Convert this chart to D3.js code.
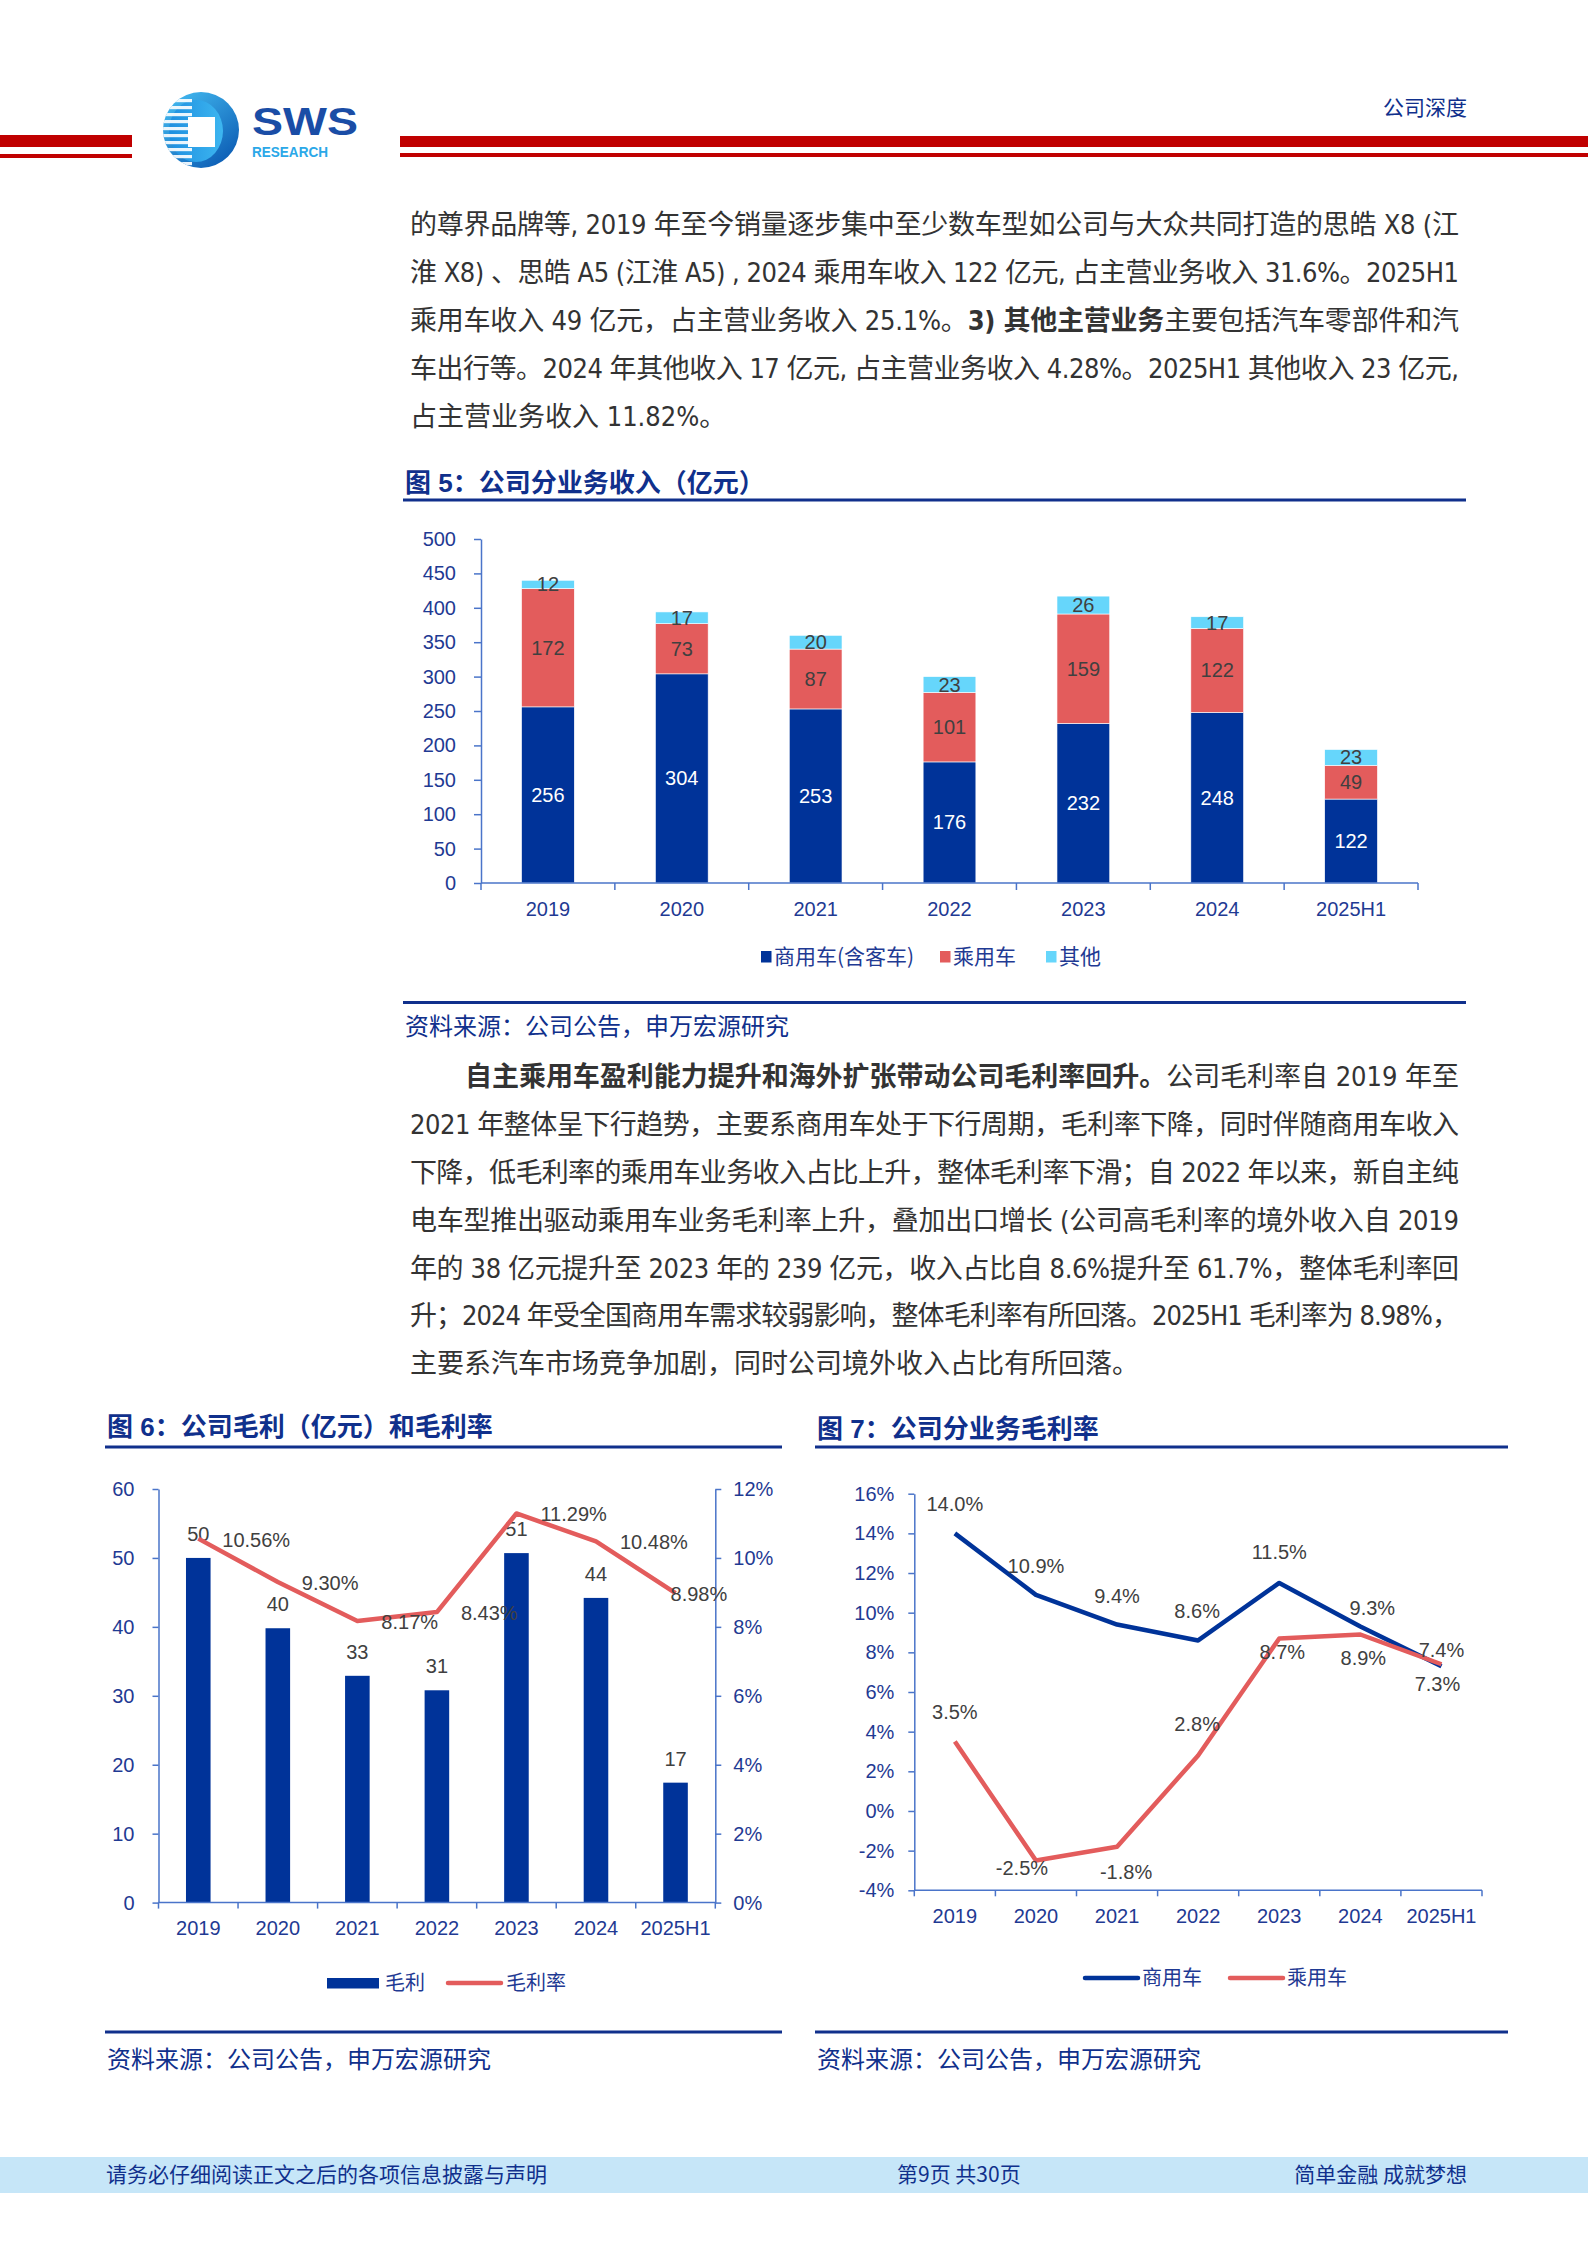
<!DOCTYPE html>
<html>
<head>
<meta charset="utf-8">
<script src="https://cdn.jsdelivr.net/npm/d3@7"></script>
<style>
html, body { margin: 0; padding: 0; background: #fff; }
svg { display: block; }
</style>
</head>
<body>
<svg id="page" width="1588" height="2245"></svg>
<script>
// ---- data ----
var years = ["2019", "2020", "2021", "2022", "2023", "2024", "2025H1"];

// fig 5: revenue by segment (亿元)
var revCommercial = [256, 304, 253, 176, 232, 248, 122];
var revPassenger = [172, 73, 87, 101, 159, 122, 49];
var revOther = [12, 17, 20, 23, 26, 17, 23];
var revTicks = [0, 50, 100, 150, 200, 250, 300, 350, 400, 450, 500];
var revNames = ["商用车(含客车)", "乘用车", "其他"];

// fig 6: gross profit (亿元) and gross margin (%)
var grossProfit = [50.0, 39.8, 32.9, 30.8, 50.7, 44.2, 17.4];
var grossMargin = [10.56, 9.30, 8.17, 8.43, 11.29, 10.48, 8.98];
var profitTicks = [0, 10, 20, 30, 40, 50, 60];
var marginTicks = [0, 2, 4, 6, 8, 10, 12];

// fig 7: margin by segment (%)
var marginCommercial = [14.0, 10.9, 9.4, 8.6, 11.5, 9.3, 7.3];
var marginPassenger = [3.5, -2.5, -1.8, 2.8, 8.7, 8.9, 7.4];
var segTicks = [-4, -2, 0, 2, 4, 6, 8, 10, 12, 14, 16];

// ---- styles ----
var navy = "#003399",
    red = "#E35C5C",
    cyan = "#66D6FB",
    axisBlue = "#4A74C9",
    tickBlue = "#1F3A93",
    titleBlue = "#10308C",
    labelGrey = "#404040",
    headRed = "#C00000";

var FONT_CN = "'Noto Sans CJK SC', sans-serif",
    FONT_NUM = "'Liberation Sans', Arial, 'Noto Sans CJK SC', sans-serif",
    FONT_BODY = "'Liberation Sans Narrow', 'Arial Narrow', 'DejaVu Sans Condensed', 'Noto Sans CJK SC', sans-serif";

var svg = d3.select("#page");
svg.append("rect").attr("width", 1588).attr("height", 2245).attr("fill", "#fff");

// ---- header ----
svg.append("rect").attr("x", 0).attr("y", 135).attr("width", 132).attr("height", 12).attr("fill", headRed);
svg.append("rect").attr("x", 0).attr("y", 154).attr("width", 132).attr("height", 4).attr("fill", headRed);
svg.append("rect").attr("x", 400).attr("y", 136).attr("width", 1188).attr("height", 11).attr("fill", headRed);
svg.append("rect").attr("x", 400).attr("y", 153).attr("width", 1188).attr("height", 4).attr("fill", headRed);

var defs = svg.append("defs");
var lg = defs.append("linearGradient").attr("id", "logoGrad")
    .attr("x1", "10%").attr("y1", "0%").attr("x2", "90%").attr("y2", "100%");
lg.append("stop").attr("offset", "0%").attr("stop-color", "#45BDF2");
lg.append("stop").attr("offset", "100%").attr("stop-color", "#0856B0");
var lg2 = defs.append("linearGradient").attr("id", "logoInner")
    .attr("x1", "0%").attr("y1", "0%").attr("x2", "100%").attr("y2", "0%");
lg2.append("stop").attr("offset", "0%").attr("stop-color", "#1E8FE0");
lg2.append("stop").attr("offset", "100%").attr("stop-color", "#3DB6F0");
defs.append("clipPath").attr("id", "logoClip")
  .append("circle").attr("cx", 201).attr("cy", 130).attr("r", 38);

var logo = svg.append("g");
logo.append("circle").attr("cx", 201).attr("cy", 130).attr("r", 38).attr("fill", "url(#logoGrad)");
logo.append("ellipse").attr("cx", 196).attr("cy", 131).attr("rx", 27).attr("ry", 31).attr("fill", "url(#logoInner)");
var stripes = logo.append("g").attr("clip-path", "url(#logoClip)");
d3.range(99, 164, 7).forEach(function(y) {
  stripes.append("rect").attr("x", 160).attr("y", y).attr("width", 32).attr("height", 3.2).attr("fill", "#fff").attr("opacity", 0.9);
});
logo.append("rect").attr("x", 188).attr("y", 117).attr("width", 27).attr("height", 30).attr("fill", "#fff");
svg.append("text").attr("x", 252).attr("y", 135)
    .attr("font-family", FONT_NUM).attr("font-weight", "bold").attr("font-size", 38)
    .attr("fill", "#1A4DA6").attr("textLength", 106).attr("lengthAdjust", "spacingAndGlyphs").text("SWS");
svg.append("text").attr("x", 252).attr("y", 157)
    .attr("font-family", FONT_NUM).attr("font-weight", "bold").attr("font-size", 15)
    .attr("fill", "#2BA8E8").attr("textLength", 76).attr("lengthAdjust", "spacingAndGlyphs").text("RESEARCH");

svg.append("text").attr("x", 1467).attr("y", 108).attr("dy", "0.35em").attr("text-anchor", "end")
    .attr("font-family", FONT_CN).attr("font-size", 21).attr("fill", titleBlue).text("公司深度");

// ---- body text ----
function paragraph(lines, x0, y0, lh, width) {
  lines.forEach(function(l, i) {
    var ind = l.indent || 0;
    var t = svg.append("text")
        .attr("x", x0 + ind).attr("y", y0 + i * lh).attr("dy", "0.35em")
        .attr("font-family", FONT_BODY).attr("font-size", 27).attr("fill", "#333");
    l.parts.forEach(function(p) {
      t.append("tspan").attr("font-weight", p.b ? "bold" : null).text(p.t);
    });
    if (l.justify) t.attr("textLength", width - ind).attr("lengthAdjust", "spacing");
  });
}

paragraph([
  {justify: true, parts: [{t: "的尊界品牌等, 2019 年至今销量逐步集中至少数车型如公司与大众共同打造的思皓 X8 (江"}]},
  {justify: true, parts: [{t: "淮 X8) 、思皓 A5 (江淮 A5) , 2024 乘用车收入 122 亿元, 占主营业务收入 31.6%。2025H1"}]},
  {justify: true, parts: [{t: "乘用车收入 49  亿元，占主营业务收入 25.1%。"}, {t: "3) 其他主营业务", b: true}, {t: "主要包括汽车零部件和汽"}]},
  {justify: true, parts: [{t: "车出行等。2024 年其他收入 17 亿元, 占主营业务收入 4.28%。2025H1 其他收入 23  亿元,"}]},
  {parts: [{t: "占主营业务收入 11.82%。"}]}
], 410, 225, 47.8, 1049);

paragraph([
  {indent: 55, justify: true, parts: [{t: "自主乘用车盈利能力提升和海外扩张带动公司毛利率回升。", b: true}, {t: "公司毛利率自  2019  年至"}]},
  {justify: true, parts: [{t: "2021 年整体呈下行趋势，主要系商用车处于下行周期，毛利率下降，同时伴随商用车收入"}]},
  {justify: true, parts: [{t: "下降，低毛利率的乘用车业务收入占比上升，整体毛利率下滑；自 2022 年以来，新自主纯"}]},
  {justify: true, parts: [{t: "电车型推出驱动乘用车业务毛利率上升，叠加出口增长 (公司高毛利率的境外收入自 2019"}]},
  {justify: true, parts: [{t: "年的 38 亿元提升至 2023 年的 239 亿元，收入占比自 8.6%提升至 61.7%，整体毛利率回"}]},
  {justify: true, parts: [{t: "升；2024 年受全国商用车需求较弱影响，整体毛利率有所回落。2025H1 毛利率为 8.98%，"}]},
  {parts: [{t: "主要系汽车市场竞争加剧，同时公司境外收入占比有所回落。"}]}
], 410, 1077, 47.8, 1049);

// ---- figure frame helpers ----
function figTitle(x, y, x2, yLine, label) {
  svg.append("text").attr("x", x).attr("y", y).attr("dy", "0.35em")
      .attr("font-family", "'Liberation Sans', " + FONT_CN).attr("font-weight", "bold")
      .attr("font-size", 26).attr("fill", titleBlue).text(label);
  svg.append("rect").attr("x", x - 2).attr("y", yLine - 1.5).attr("width", x2 - x + 2).attr("height", 3).attr("fill", titleBlue);
}
function figSource(x, x2, yLine, yText) {
  svg.append("rect").attr("x", x - 2).attr("y", yLine - 1.5).attr("width", x2 - x + 2).attr("height", 3).attr("fill", titleBlue);
  svg.append("text").attr("x", x).attr("y", yText).attr("dy", "0.35em")
      .attr("font-family", FONT_CN).attr("font-size", 24).attr("fill", titleBlue)
      .text("资料来源：公司公告，申万宏源研究");
}
function styleAxis(g, size) {
  g.select(".domain").attr("stroke", axisBlue).attr("stroke-width", 1.5);
  g.selectAll(".tick line").attr("stroke", axisBlue).attr("stroke-width", 1.5);
  g.selectAll(".tick text").attr("fill", tickBlue).attr("font-family", FONT_NUM).attr("font-size", size || 20);
}
function bandAxis(x, yPos, tickLen, labelY) {
  var g = svg.append("g");
  var r = x.range();
  g.append("line").attr("x1", r[0]).attr("x2", r[1]).attr("y1", yPos).attr("y2", yPos)
      .attr("stroke", axisBlue).attr("stroke-width", 1.5);
  d3.range(x.domain().length + 1).forEach(function(i) {
    var xx = r[0] + i * x.step();
    g.append("line").attr("x1", xx).attr("x2", xx).attr("y1", yPos).attr("y2", yPos + tickLen)
        .attr("stroke", axisBlue).attr("stroke-width", 1.5);
  });
  g.selectAll("text.cat").data(x.domain()).enter().append("text")
      .attr("x", function(d) { return x(d) + x.bandwidth() / 2; })
      .attr("y", labelY).attr("dy", "0.35em").attr("text-anchor", "middle")
      .attr("font-family", FONT_NUM).attr("font-size", 20).attr("fill", tickBlue)
      .text(function(d) { return d; });
}

// ---- figure 5 ----
figTitle(405, 483, 1466, 500, "图 5：公司分业务收入（亿元）");

var x5 = d3.scaleBand().domain(years).range([481, 1418]).paddingInner(0.606).paddingOuter(0.303);
var y5 = d3.scaleLinear().domain([0, 500]).range([883, 539]);

var rows5 = years.map(function(y, i) {
  return {year: y, c: revCommercial[i], p: revPassenger[i], o: revOther[i]};
});
var stack5 = d3.stack().keys(["c", "p", "o"])(rows5);
var colors5 = [navy, red, cyan],
    labelColors5 = ["#fff", labelGrey, labelGrey];

var g5 = svg.append("g");
stack5.forEach(function(layer, k) {
  g5.selectAll(null).data(layer).enter().append("rect")
      .attr("x", function(d) { return x5(d.data.year); })
      .attr("width", x5.bandwidth())
      .attr("y", function(d) { return y5(d[1]); })
      .attr("height", function(d) { return y5(d[0]) - y5(d[1]); })
      .attr("fill", colors5[k])
      .attr("stroke", "#fff").attr("stroke-width", 0.6);
});
stack5.forEach(function(layer, k) {
  g5.selectAll(null).data(layer).enter().append("text")
      .attr("x", function(d) { return x5(d.data.year) + x5.bandwidth() / 2; })
      .attr("y", function(d) { return y5((d[0] + d[1]) / 2); })
      .attr("dy", "0.35em").attr("text-anchor", "middle")
      .attr("font-family", FONT_NUM).attr("font-size", 20).attr("fill", labelColors5[k])
      .text(function(d) { return d[1] - d[0]; });
});

var ax5 = svg.append("g").attr("transform", "translate(481,0)")
    .call(d3.axisLeft(y5).tickValues(revTicks).tickSize(7).tickPadding(18).tickSizeOuter(0));
styleAxis(ax5);
bandAxis(x5, 883, 7, 909);

var leg5x = [761, 940, 1046];
var leg5 = svg.append("g");
revNames.forEach(function(n, i) {
  leg5.append("rect").attr("x", leg5x[i]).attr("y", 951).attr("width", 10.5).attr("height", 11.5).attr("fill", colors5[i]);
  leg5.append("text").attr("x", leg5x[i] + 13).attr("y", 957).attr("dy", "0.35em")
      .attr("font-family", FONT_CN).attr("font-size", 21).attr("fill", tickBlue).text(n);
});
figSource(405, 1466, 1002.5, 1027);

// ---- figure 6 ----
figTitle(107, 1427, 782, 1447, "图 6：公司毛利（亿元）和毛利率");

var x6 = d3.scaleBand().domain(years).range([158.5, 715.3]).paddingInner(0.691).paddingOuter(0.3455);
var yL = d3.scaleLinear().domain([0, 60]).range([1902.6, 1489]);
var yR = d3.scaleLinear().domain([0, 12]).range([1902.6, 1489]);

var g6 = svg.append("g");
g6.selectAll("rect").data(grossProfit).enter().append("rect")
    .attr("x", function(d, i) { return x6(years[i]); })
    .attr("width", x6.bandwidth())
    .attr("y", function(d) { return yL(d); })
    .attr("height", function(d) { return yL(0) - yL(d); })
    .attr("fill", navy);

var axL = svg.append("g").attr("transform", "translate(158.5,0)")
    .call(d3.axisLeft(yL).tickValues(profitTicks).tickSize(6).tickPadding(18).tickSizeOuter(0));
styleAxis(axL);
var axR = svg.append("g").attr("transform", "translate(715.3,0)")
    .call(d3.axisRight(yR).tickValues(marginTicks).tickSize(6).tickPadding(12).tickSizeOuter(0)
      .tickFormat(function(d) { return d + "%"; }));
styleAxis(axR);
bandAxis(x6, 1902.6, 6, 1928);

var cx6 = function(i) { return x6(years[i]) + x6.bandwidth() / 2; };
g6.selectAll("text.gp").data(grossProfit).enter().append("text")
    .attr("x", function(d, i) { return cx6(i); })
    .attr("y", function(d) { return yL(d) - 24; })
    .attr("dy", "0.35em").attr("text-anchor", "middle")
    .attr("font-family", FONT_NUM).attr("font-size", 20).attr("fill", labelGrey)
    .text(d3.format(".0f"));

var line6 = d3.line().x(function(d, i) { return cx6(i); }).y(function(d) { return yR(d); });
svg.append("path").datum(grossMargin).attr("d", line6)
    .attr("fill", "none").attr("stroke", red).attr("stroke-width", 4.5).attr("stroke-linejoin", "round");

svg.append("g").selectAll("text").data(grossMargin).enter().append("text")
    .attr("x", function(d, i) { return cx6(i) + (i === grossMargin.length - 1 ? -5 : 24); })
    .attr("y", function(d) { return yR(d) + 1; })
    .attr("dy", "0.35em")
    .attr("font-family", FONT_NUM).attr("font-size", 20).attr("fill", labelGrey)
    .text(function(d) { return d.toFixed(2) + "%"; });

svg.append("rect").attr("x", 327).attr("y", 1978).attr("width", 52).attr("height", 10.5).attr("fill", navy);
svg.append("text").attr("x", 385).attr("y", 1983).attr("dy", "0.35em")
    .attr("font-family", FONT_CN).attr("font-size", 20).attr("fill", tickBlue).text("毛利");
svg.append("line").attr("x1", 448).attr("x2", 501).attr("y1", 1983).attr("y2", 1983)
    .attr("stroke", red).attr("stroke-width", 4.5).attr("stroke-linecap", "round");
svg.append("text").attr("x", 506).attr("y", 1983).attr("dy", "0.35em")
    .attr("font-family", FONT_CN).attr("font-size", 20).attr("fill", tickBlue).text("毛利率");
figSource(107, 782, 2032, 2060);

// ---- figure 7 ----
figTitle(817, 1429, 1508, 1447, "图 7：公司分业务毛利率");

var x7 = d3.scaleBand().domain(years).range([914.3, 1482]);
var y7 = d3.scaleLinear().domain([-4, 16]).range([1890.3, 1493.7]);
var cx7 = function(i) { return x7(years[i]) + x7.bandwidth() / 2; };

var ax7 = svg.append("g").attr("transform", "translate(914.3,0)")
    .call(d3.axisLeft(y7).tickValues(segTicks).tickSize(6).tickPadding(14).tickSizeOuter(0)
      .tickFormat(function(d) { return d + "%"; }));
styleAxis(ax7);
bandAxis(x7, 1890.3, 6, 1916);

var line7 = d3.line().x(function(d, i) { return cx7(i); }).y(function(d) { return y7(d); });
// label nudges (px) per point, as placed in the source chart
var series7 = [
  {vals: marginCommercial, color: navy,
   dx: [0, 0, 0, -1, 0, 12, -4], dy: [-29, -29, -29, -29, -31, -19, 18]},
  {vals: marginPassenger, color: red,
   dx: [0, -14, 9, -1, 3, 3, 0], dy: [-30, 7, 25, -31, 14, 24, -14]}
];
series7.forEach(function(s) {
  svg.append("path").datum(s.vals).attr("d", line7)
      .attr("fill", "none").attr("stroke", s.color).attr("stroke-width", 4.5).attr("stroke-linejoin", "round");
});
series7.forEach(function(s) {
  svg.append("g").selectAll("text").data(s.vals).enter().append("text")
      .attr("x", function(d, i) { return cx7(i) + s.dx[i]; })
      .attr("y", function(d, i) { return y7(d) + s.dy[i]; })
      .attr("dy", "0.35em").attr("text-anchor", "middle")
      .attr("font-family", FONT_NUM).attr("font-size", 20).attr("fill", labelGrey)
      .text(function(d) { return d.toFixed(1) + "%"; });
});

[{name: "商用车", color: navy, x: 1085}, {name: "乘用车", color: red, x: 1230}].forEach(function(l) {
  svg.append("line").attr("x1", l.x).attr("x2", l.x + 53).attr("y1", 1978).attr("y2", 1978)
      .attr("stroke", l.color).attr("stroke-width", 4.5).attr("stroke-linecap", "round");
  svg.append("text").attr("x", l.x + 57).attr("y", 1978).attr("dy", "0.35em")
      .attr("font-family", FONT_CN).attr("font-size", 20).attr("fill", tickBlue).text(l.name);
});
figSource(817, 1508, 2032, 2060);

// ---- footer ----
svg.append("rect").attr("x", 0).attr("y", 2157).attr("width", 1588).attr("height", 36).attr("fill", "#C6E6F8");
[{t: "请务必仔细阅读正文之后的各项信息披露与声明", x: 106, a: "start"},
 {t: "第9页 共30页", x: 897, a: "start"},
 {t: "简单金融 成就梦想", x: 1467, a: "end"}].forEach(function(f) {
  svg.append("text").attr("x", f.x).attr("y", 2175).attr("dy", "0.35em").attr("text-anchor", f.a)
      .attr("font-family", FONT_CN).attr("font-size", 21).attr("fill", titleBlue).text(f.t);
});
</script>
</body>
</html>
